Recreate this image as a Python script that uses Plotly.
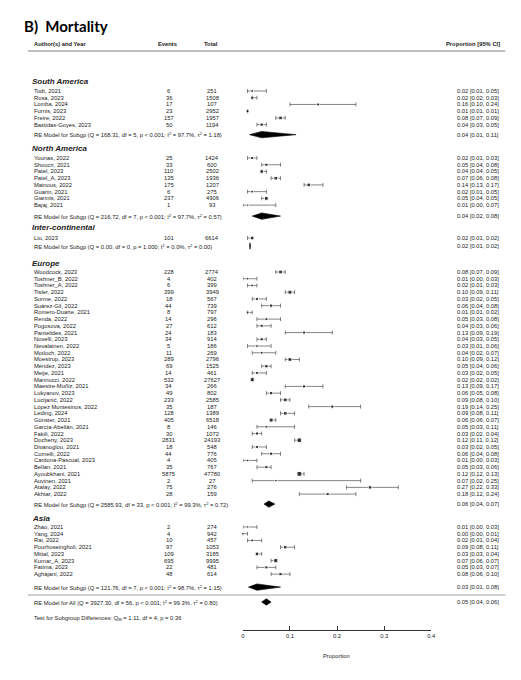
import math
import plotly.graph_objects as go

# ---- data ----
groups = ["South America", "North America", "Inter-continental", "Europe", "Asia"]

sa_names = ["Todt, 2021", "Rosa, 2023", "Lomba, 2024", "Furnis, 2023", "Freire, 2022", "Bastidas-Goyes, 2023"]
sa_events = [6, 36, 17, 23, 157, 50]
sa_total = [251, 1508, 107, 2952, 1957, 1194]
sa_est = [0.02, 0.02, 0.16, 0.01, 0.08, 0.04]
sa_lo = [0.01, 0.02, 0.10, 0.01, 0.07, 0.03]
sa_hi = [0.05, 0.03, 0.24, 0.01, 0.09, 0.05]

na_names = ["Younas, 2022", "Shoucri, 2021", "Patel, 2023", "Patel_A, 2023", "Mainous, 2022",
            "Guarin, 2021", "Giannis, 2021", "Bajaj, 2021"]
na_events = [25, 33, 110, 135, 175, 6, 237, 1]
na_total = [1424, 600, 2502, 1936, 1207, 275, 4906, 93]
na_est = [0.02, 0.05, 0.04, 0.07, 0.14, 0.02, 0.05, 0.01]
na_lo = [0.01, 0.04, 0.04, 0.06, 0.13, 0.01, 0.04, 0.00]
na_hi = [0.03, 0.08, 0.05, 0.08, 0.17, 0.05, 0.05, 0.07]

ic_names = ["Liu, 2023"]
ic_events = [101]
ic_total = [6614]
ic_est = [0.02]
ic_lo = [0.01]
ic_hi = [0.02]

eu_names = ["Woodcock, 2023", "Toshner_B, 2022", "Toshner_A, 2022", "Tisler, 2022", "Surme, 2022",
            "Suárez-Gil, 2022", "Romero-Duarte, 2021", "Renda, 2022", "Pogosova, 2022", "Pantelides, 2021",
            "Novelli, 2023", "Nevalainen, 2022", "Motloch, 2022", "Moestrup, 2023", "Méndez, 2023",
            "Meije, 2021", "Mannucci, 2022", "Maestre-Muñiz, 2021", "Lukyanov, 2023", "Lucijanić, 2022",
            "López Montesinos, 2022", "Leding, 2024", "Günster, 2021", "García-Abellán, 2021", "Fakili, 2022",
            "Docherty, 2023", "Divanoglou, 2021", "Cornelli, 2022", "Cardona-Pascual, 2023", "Bellan, 2021",
            "Ayoubkhani, 2021", "Auvinen, 2021", "Atalay, 2022", "Akhtar, 2022"]
eu_events = [228, 4, 6, 399, 18, 44, 8, 14, 27, 24, 34, 5, 11, 289, 69, 14, 532, 34, 49, 233,
             35, 128, 405, 8, 30, 2831, 18, 44, 4, 35, 5875, 2, 75, 28]
eu_total = [2774, 402, 399, 3949, 567, 739, 797, 296, 612, 183, 914, 186, 269, 2796, 1525, 461,
            27627, 266, 802, 2585, 187, 1389, 6518, 146, 1072, 24193, 548, 776, 405, 767, 47780,
            27, 276, 159]
eu_est = [0.08, 0.01, 0.02, 0.10, 0.03, 0.06, 0.01, 0.05, 0.04, 0.13, 0.04, 0.03, 0.04, 0.10, 0.05,
          0.03, 0.02, 0.13, 0.06, 0.09, 0.19, 0.09, 0.06, 0.05, 0.03, 0.12, 0.03, 0.06, 0.01, 0.05,
          0.12, 0.07, 0.27, 0.18]
eu_lo = [0.07, 0.00, 0.01, 0.09, 0.02, 0.04, 0.01, 0.03, 0.03, 0.09, 0.03, 0.01, 0.02, 0.09, 0.04,
         0.02, 0.02, 0.09, 0.05, 0.08, 0.14, 0.08, 0.06, 0.03, 0.02, 0.11, 0.02, 0.04, 0.00, 0.03,
         0.12, 0.02, 0.22, 0.12]
eu_hi = [0.09, 0.03, 0.03, 0.11, 0.05, 0.08, 0.02, 0.08, 0.06, 0.19, 0.05, 0.06, 0.07, 0.12, 0.06,
         0.05, 0.02, 0.17, 0.08, 0.10, 0.25, 0.11, 0.07, 0.11, 0.04, 0.12, 0.05, 0.08, 0.03, 0.06,
         0.13, 0.25, 0.33, 0.24]

as_names = ["Zhao, 2021", "Yang, 2024", "Rai, 2022", "Pourhoseingholi, 2021", "Mittal, 2023",
            "Kumar_A, 2023", "Fatima, 2023", "Aghajani, 2022"]
as_events = [2, 4, 10, 97, 109, 695, 22, 48]
as_total = [274, 942, 457, 1053, 3185, 9995, 481, 614]
as_est = [0.01, 0.00, 0.02, 0.09, 0.03, 0.07, 0.05, 0.08]
as_lo = [0.00, 0.00, 0.01, 0.08, 0.03, 0.06, 0.03, 0.06]
as_hi = [0.03, 0.01, 0.04, 0.11, 0.04, 0.07, 0.07, 0.10]

re_labels = [
    "RE Model for Subgp (Q = 168.31, df = 5, p < 0.001; I<sup>2</sup> = 97.7%, τ<sup>2</sup> = 1.18)",
    "RE Model for Subgp (Q = 216.72, df = 7, p < 0.001; I<sup>2</sup> = 97.7%, τ<sup>2</sup> = 0.57)",
    "RE Model for Subgp (Q = 0.00, df = 0, p = 1.000; I<sup>2</sup> = 0.0%, τ<sup>2</sup> = 0.00)",
    "RE Model for Subgp (Q = 2585.93, df = 33, p < 0.001; I<sup>2</sup> = 99.3%, τ<sup>2</sup> = 0.72)",
    "RE Model for Subgp (Q = 121.76, df = 7, p < 0.001; I<sup>2</sup> = 98.7%, τ<sup>2</sup> = 1.15)",
]
re_est = [0.04, 0.04, 0.02, 0.06, 0.03]
re_lo = [0.01, 0.02, 0.01, 0.04, 0.01]
re_hi = [0.11, 0.08, 0.02, 0.07, 0.08]
# diamond extents as drawn (the printed values are rounded)
re_draw_est = [0.04, 0.04, 0.0153, 0.055, 0.03]
re_draw_lo = [0.014, 0.02, 0.0145, 0.045, 0.012]
re_draw_hi = [0.113, 0.08, 0.0162, 0.068, 0.08]

all_label = "RE Model for All (Q = 3927.30, df = 56, p < 0.001; I<sup>2</sup> = 99.3%, τ<sup>2</sup> = 0.80)"
all_est, all_lo, all_hi = 0.05, 0.04, 0.06
test_label = "Test for Subgroup Differences: Q<sub>M</sub> = 1.11, df = 4, p = 0.36"

x_ticks = [0, 0.1, 0.2, 0.3, 0.4]

group_data = [
    (sa_names, sa_events, sa_total, sa_est, sa_lo, sa_hi),
    (na_names, na_events, na_total, na_est, na_lo, na_hi),
    (ic_names, ic_events, ic_total, ic_est, ic_lo, ic_hi),
    (eu_names, eu_events, eu_total, eu_est, eu_lo, eu_hi),
    (as_names, as_events, as_total, as_est, as_lo, as_hi),
]

# ---- layout (pixel rows) ----
W, H = 521, 680
STEP = 6.73
head_y = [73, 140, 219, 255, 510]
first_gap = [10, 10, 11, 9, 9]
re_gap = [10, 11, 8, 10, 13]

FONT = "Liberation Sans, Arial, sans-serif"
SMALL = 5.8

fig = go.Figure()
ann = []


def txt(x, y, s, anchor="left", size=SMALL, bold=False, italic=False):
    if bold:
        s = "<b>" + s + "</b>"
    if italic:
        s = "<i>" + s + "</i>"
    ann.append(dict(x=x / W, y=y, xref="paper", yref="y", text=s, showarrow=False,
                    xanchor=anchor, yanchor="middle", font=dict(size=size, color="#222", family=FONT)))


def fmt(e, lo, hi):
    return f"{e:.2f} [{lo:.2f}, {hi:.2f}]"


def diamond(y, lo, e, hi, half=3.2):
    fig.add_trace(go.Scatter(x=[lo, e, hi, e, lo], y=[y, y - half, y, y + half, y],
                             mode="lines", fill="toself", fillcolor="black",
                             line=dict(color="black", width=0.6), hoverinfo="skip"))


px, py, perr_lo, perr_hi, psize = [], [], [], [], []
for g, (names, ev, tot, est, lo, hi) in enumerate(group_data):
    hy = head_y[g]
    txt(20, hy, groups[g], size=8, bold=True, italic=True)
    y = hy + first_gap[g]
    for i in range(len(names)):
        txt(22, y, names[i])
        txt(161, y, str(ev[i]), anchor="center")
        txt(205, y, str(tot[i]), anchor="center")
        txt(498, y, fmt(est[i], lo[i], hi[i]), anchor="right")
        px.append(est[i]); py.append(y)
        perr_lo.append(est[i] - lo[i]); perr_hi.append(hi[i] - est[i])
        psize.append(2 + 0.75 * math.log10(ev[i] + 1))
        y += STEP
    ry = y - STEP + re_gap[g]
    txt(22, ry, re_labels[g])
    txt(498, ry, fmt(re_est[g], re_lo[g], re_hi[g]), anchor="right")
    diamond(ry, re_draw_lo[g], re_draw_est[g], re_draw_hi[g])

fig.add_trace(go.Scatter(
    x=px, y=py, mode="markers",
    marker=dict(symbol="square", size=psize, color="black"),
    error_x=dict(type="data", symmetric=False, array=perr_hi, arrayminus=perr_lo,
                 color="#333", thickness=0.6, width=2),
    hoverinfo="skip"))

all_y = 594
txt(22, all_y, all_label)
txt(498, all_y, fmt(all_est, all_lo, all_hi), anchor="right")
diamond(all_y, all_lo, all_est, all_hi)
txt(22, 610, test_label)

# header
ann.append(dict(x=12 / W, y=18, xref="paper", yref="y", text="<b>B)  Mortality</b>", showarrow=False,
                xanchor="left", yanchor="middle", font=dict(size=15, color="black", family="Lato, sans-serif")))
txt(22, 36, "Author(s) and Year", bold=True)
txt(160, 36, "Events", anchor="center", bold=True)
txt(204, 36, "Total", anchor="center", bold=True)
txt(499, 36, "Proportion [95% CI]", anchor="right", bold=True)
txt(331, 648, "Proportion", anchor="center")

shapes = [
    dict(type="line", xref="paper", yref="y", x0=18 / W, x1=502 / W, y0=43, y1=43,
         line=dict(color="#aaa", width=1.5)),
    dict(type="line", xref="paper", yref="y", x0=18 / W, x1=502 / W, y0=587, y1=587,
         line=dict(color="#888", width=0.8)),
]

fig.update_layout(
    width=W, height=H, autosize=False,
    margin=dict(l=0, r=0, t=0, b=0),
    paper_bgcolor="white", plot_bgcolor="white",
    showlegend=False,
    annotations=ann, shapes=shapes,
    xaxis=dict(domain=[236 / W, 427 / W], range=[0, 0.4], anchor="free", position=(H - 622) / H,
               tickvals=x_ticks, ticktext=["0", "0.1", "0.2", "0.3", "0.4"], ticks="inside", ticklen=4,
               tickcolor="#333", showline=True, linecolor="#333", linewidth=0.8, showgrid=False,
               zeroline=False, tickfont=dict(size=SMALL, family=FONT, color="#222")),
    yaxis=dict(domain=[0, 1], range=[H, 0], visible=False, showgrid=False),
)
fig.update_traces(cliponaxis=False)

fig.write_html("out.html")
